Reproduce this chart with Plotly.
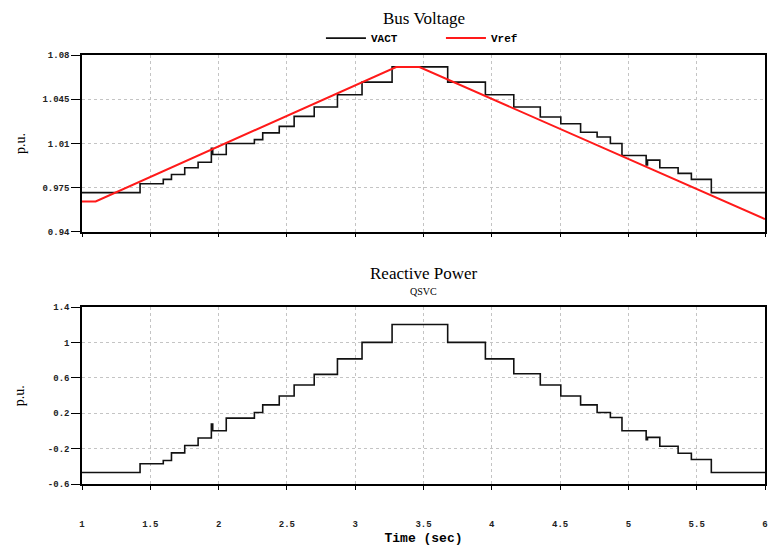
import plotly.graph_objects as go

# ---- data ----
t_steps = [1.0, 1.425, 1.595, 1.655, 1.752, 1.85, 1.947, 1.957, 2.056, 2.262, 2.323,
           2.444, 2.553, 2.70, 2.87, 3.05, 3.27, 3.677, 3.953, 4.161, 4.355, 4.505,
           4.65, 4.771, 4.868, 4.953, 5.13, 5.14, 5.23, 5.364, 5.461, 5.607, 6.0]
vact = [0.971, 0.978, 0.9815, 0.9854, 0.9907, 0.9951, 1.006, 1.0012, 1.0099, 1.013, 1.0183,
        1.0235, 1.0314, 1.0388, 1.0485, 1.0585, 1.0706, 1.0585, 1.0485, 1.0388, 1.0309, 1.0256,
        1.0188, 1.015, 1.0099, 1.0004, 0.993, 0.9967, 0.9907, 0.9862, 0.9815, 0.971, 0.971]
qsvc = [-0.47, -0.371, -0.334, -0.248, -0.165, -0.079, 0.078, 0.003, 0.145, 0.209, 0.295,
        0.396, 0.52, 0.64, 0.816, 1.003, 1.205, 1.003, 0.816, 0.647, 0.52, 0.396,
        0.295, 0.209, 0.153, 0.003, -0.1, -0.072, -0.173, -0.252, -0.323, -0.47, -0.47]
t_ref = [1.0, 1.1, 3.3, 3.47, 6.0]
vref = [0.964, 0.964, 1.0705, 1.0705, 0.950]

x_ticks = [1, 1.5, 2, 2.5, 3, 3.5, 4, 4.5, 5, 5.5, 6]
x_ticktext = ["1", "1.5", "2", "2.5", "3", "3.5", "4", "4.5", "5", "5.5", "6"]
v_ticks = [0.94, 0.975, 1.01, 1.045, 1.08]
v_ticktext = ["0.94", "0.975", "1.01", "1.045", "1.08"]
q_ticks = [-0.6, -0.2, 0.2, 0.6, 1.0, 1.4]
q_ticktext = ["-0.6", "-0.2", "0.2", "0.6", "1", "1.4"]

tickfont = dict(family="Liberation Mono", size=9, color="#222", weight="bold")
serif = "Liberation Serif"

fig = go.Figure()
fig.add_trace(go.Scatter(x=t_steps, y=vact, mode="lines", line_shape="hv",
                         line=dict(color="#111", width=1.6), name="<b>VACT</b>",
                         xaxis="x", yaxis="y"))
fig.add_trace(go.Scatter(x=t_ref, y=vref, mode="lines",
                         line=dict(color="#ff1a1a", width=2), name="<b>Vref</b>",
                         xaxis="x", yaxis="y"))
fig.add_trace(go.Scatter(x=t_steps, y=qsvc, mode="lines", line_shape="hv",
                         line=dict(color="#111", width=1.6), name="QSVC",
                         showlegend=False, xaxis="x2", yaxis="y2"))

axcommon = dict(showline=True, linecolor="black", linewidth=1.5, mirror=True,
                showgrid=True, gridcolor="#c4c4c4", griddash="dot", gridwidth=1,
                ticks="outside", tickcolor="black", zeroline=False, tickfont=tickfont)


def py2paper(py):
    # plot area: top 55 px, height 432 px
    return (487 - py) / 432.0


def px2paper(px):
    return (px - 82) / 686.0


fig.update_layout(
    width=775, height=550,
    margin=dict(l=82, r=7, t=55, b=63),
    paper_bgcolor="white", plot_bgcolor="white",
    showlegend=True,
    legend=dict(orientation="h", x=px2paper(322), y=py2paper(38), xanchor="left",
                yanchor="middle",
                font=dict(family="Liberation Mono", size=11, color="black"),
                bgcolor="rgba(0,0,0,0)", entrywidth=65, entrywidthmode="pixels",
                itemwidth=40, tracegroupgap=0),
    xaxis=dict(domain=[0, 1], range=[1, 6], tickvals=x_ticks, showticklabels=False,
               ticklen=4, anchor="y", **axcommon),
    yaxis=dict(domain=[0.588, 1.0], range=[0.94, 1.08], tickvals=v_ticks,
               ticktext=v_ticktext, ticklen=9, anchor="x",
               title=dict(text="p.u.", font=dict(family=serif, size=14, color="black"),
                          standoff=14), **axcommon),
    xaxis2=dict(domain=[0, 1], range=[1, 6], tickvals=x_ticks, ticktext=x_ticktext,
                ticklen=4, ticklabelstandoff=26, anchor="y2",
                title=dict(text="<b>Time (sec)</b>",
                           font=dict(family="Liberation Mono", size=13, color="black"),
                           standoff=4), **axcommon),
    yaxis2=dict(domain=[0.0, 0.412], range=[-0.6, 1.4], tickvals=q_ticks,
                ticktext=q_ticktext, ticklen=9, anchor="x2",
                title=dict(text="p.u.", font=dict(family=serif, size=14, color="black"),
                           standoff=20), **axcommon),
    annotations=[
        dict(text="Bus Voltage", x=px2paper(425), y=py2paper(18), xref="paper",
             yref="paper", yanchor="middle", showarrow=False,
             font=dict(family=serif, size=17, color="black")),
        dict(text="Reactive Power", x=px2paper(425), y=py2paper(275), xref="paper",
             yref="paper", yanchor="middle", showarrow=False,
             font=dict(family=serif, size=17, color="black")),
        dict(text="QSVC", x=px2paper(425), y=py2paper(293), xref="paper",
             yref="paper", yanchor="middle", showarrow=False,
             font=dict(family=serif, size=10, color="black")),
    ],
)

fig.write_html("out.html")
